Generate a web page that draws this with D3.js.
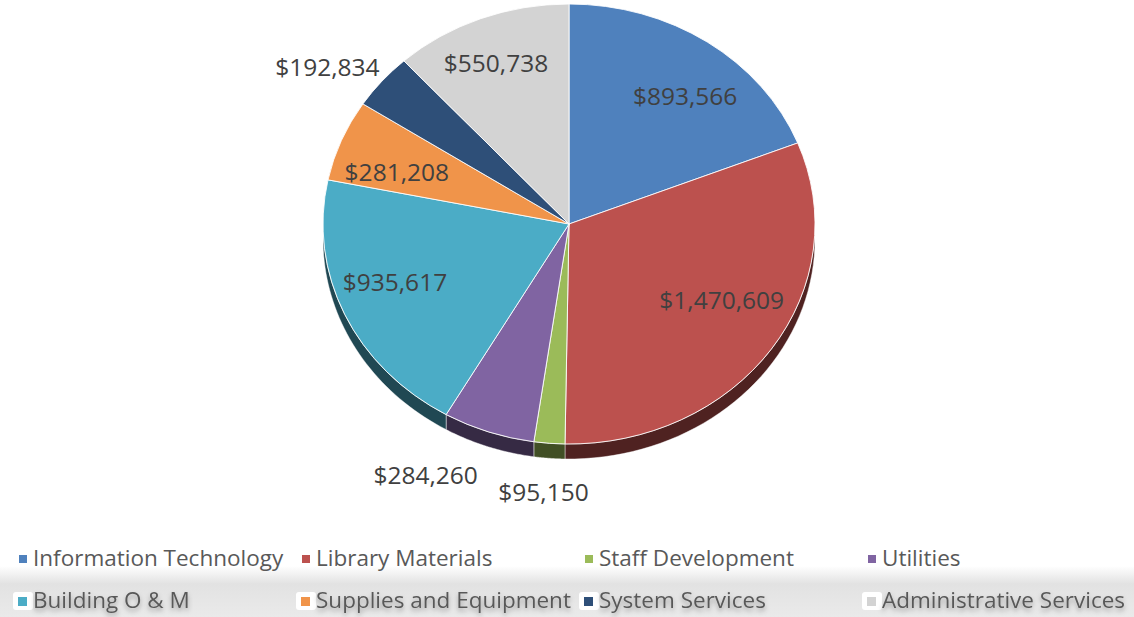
<!DOCTYPE html>
<html>
<head>
<meta charset="utf-8">
<script src="https://cdn.jsdelivr.net/npm/d3@7"></script>
<style>
  html, body { margin: 0; padding: 0; background: #ffffff; }
  svg { display: block; }
</style>
</head>
<body>
<div id="chart"></div>
<script>
// budget categories and amounts
const categories = [
    "Information Technology", "Library Materials", "Staff Development", "Utilities",
    "Building O & M", "Supplies and Equipment", "System Services", "Administrative Services"
];
const amounts = [893566, 1470609, 95150, 284260, 935617, 281208, 192834, 550738];
const colors = ["#4f81bd", "#bc514e", "#9bbb59", "#8064a2", "#4bacc6", "#f0944a", "#2e4f78", "#d3d3d3"];

// label placement: [radius as share of pie radius, nudge from mid angle in degrees]
const labelLayout = [[0.75, 4.8], [0.71, -5.6], [1.22, 0.3], [1.28, 8.0], [0.755, 3.8], [0.74, -3.4], [1.215, -4.4], [0.79, -1.0]];

const W = 1134, H = 617;
const cx = 569, cy = 224, rx = 246, ry = 220, depth = 15;

const svg = d3.select("#chart").append("svg")
    .attr("width", W)
    .attr("height", H)
    .attr("font-family", "'Open Sans', sans-serif");

const defs = svg.append("defs");
const band = defs.append("linearGradient")
    .attr("id", "band").attr("x1", 0).attr("y1", 0).attr("x2", 0).attr("y2", 1);
band.append("stop").attr("offset", "0%").attr("stop-color", "#ffffff");
band.append("stop").attr("offset", "35%").attr("stop-color", "#e2e2e2");
band.append("stop").attr("offset", "100%").attr("stop-color", "#eaeaea");

// soft shadow under the second legend row
const soft = defs.append("filter").attr("id", "soft")
    .attr("x", "-10%").attr("y", "-50%").attr("width", "120%").attr("height", "220%");
soft.append("feDropShadow")
    .attr("dx", 0).attr("dy", 3).attr("stdDeviation", 2.5)
    .attr("flood-color", "#000").attr("flood-opacity", 0.35);

const pie = d3.pie().sort(null).value(d => d);
const arcs = pie(amounts);
const fmt = d3.format("$,");

const g = svg.append("g").attr("transform", `translate(${cx},${cy})`);

// side walls, only the front half is seen
const ex = a => rx * Math.sin(a);
const ey = a => -ry * Math.cos(a);
const sides = g.append("g").attr("class", "sides");
arcs.forEach((d, i) => {
    const a0 = Math.max(d.startAngle, Math.PI / 2);
    const a1 = Math.min(d.endAngle, Math.PI * 1.5);
    if (a1 <= a0) return;
    const steps = d3.range(0, 41).map(k => a0 + (a1 - a0) * k / 40);
    const top = steps.map(a => [ex(a), ey(a)]);
    const bottom = steps.slice().reverse().map(a => [ex(a), ey(a) + depth]);
    const c = d3.color(colors[i]);
    sides.append("path")
        .attr("d", d3.line()(top.concat(bottom)) + "Z")
        .attr("fill", d3.rgb(c.r * 0.42, c.g * 0.42, c.b * 0.42))
        .attr("stroke", "rgba(255,255,255,0.55)")
        .attr("stroke-width", 0.8);
});

// top face: circle pie squashed into the ellipse
const arc = d3.arc().innerRadius(0).outerRadius(rx);
g.append("g")
    .attr("transform", `scale(1,${ry / rx})`)
    .selectAll("path")
    .data(arcs)
    .enter()
    .append("path")
    .attr("d", arc)
    .attr("fill", (d, i) => colors[i])
    .attr("stroke", "rgba(255,255,255,0.85)")
    .attr("stroke-width", 1)
    .attr("vector-effect", "non-scaling-stroke");

// value labels
const labelAngle = (d, i) => (d.startAngle + d.endAngle) / 2 + labelLayout[i][1] * Math.PI / 180;
g.selectAll("text.value")
    .data(arcs)
    .enter()
    .append("text")
    .attr("class", "value")
    .attr("x", (d, i) => labelLayout[i][0] * ex(labelAngle(d, i)))
    .attr("y", (d, i) => labelLayout[i][0] * ey(labelAngle(d, i)))
    .attr("text-anchor", "middle")
    .attr("dominant-baseline", "central")
    .attr("font-size", 24.5)
    .attr("fill", "#404040")
    .text(d => fmt(d.value));

// legend, two rows of four
svg.append("rect")
    .attr("x", 0).attr("y", 566).attr("width", W).attr("height", H - 566)
    .attr("fill", "url(#band)");

const colX = d3.scaleLinear().domain([0, 1]).range([33, 316]);
const rowY = [566, 608];
const legend = svg.append("g").attr("class", "legend")
    .selectAll("g")
    .data(categories)
    .enter()
    .append("g")
    .attr("transform", (d, i) => `translate(${colX(i % 4)},${rowY[Math.floor(i / 4)]})`);

legend.filter((d, i) => i >= 4).append("rect")
    .attr("x", -20).attr("y", -16).attr("width", 20).attr("height", 18)
    .attr("rx", 3)
    .attr("fill", "#ffffff");

legend.append("rect")
    .attr("x", (d, i) => i >= 4 ? -15 : -14)
    .attr("y", -11)
    .attr("width", (d, i) => i >= 4 ? 9 : 8)
    .attr("height", (d, i) => i >= 4 ? 9 : 8)
    .attr("fill", (d, i) => colors[i]);

legend.append("text")
    .attr("x", 0)
    .attr("font-size", 22.5)
    .attr("fill", "#595959")
    .attr("filter", (d, i) => i >= 4 ? "url(#soft)" : null)
    .text(d => d);
</script>
</body>
</html>
